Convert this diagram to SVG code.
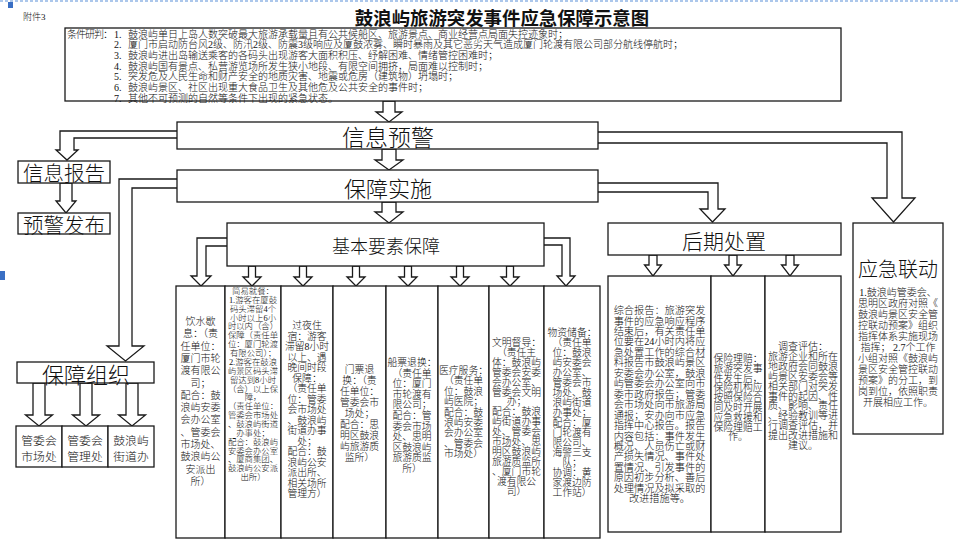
<svg xmlns="http://www.w3.org/2000/svg" width="959" height="552" viewBox="0 0 959 552">
<style>
.box{fill:#fff;stroke:#1a1a1a;stroke-width:1.3}
.arr{fill:#fff;stroke:#1a1a1a;stroke-width:1.3;stroke-linejoin:miter}
.b{font-family:"Liberation Serif","Noto Sans CJK SC",serif;font-weight:300;fill:#111;dominant-baseline:central}
.h{font-family:"Noto Sans CJK SC",sans-serif;font-weight:300;fill:#111;dominant-baseline:central;text-anchor:middle}
.m{text-anchor:middle}
</style>
<rect width="959" height="552" fill="#fff"/>
<line x1="0" y1="1" x2="959" y2="1" stroke="#5b8fd8" stroke-width="1.2" stroke-dasharray="3,2"/>
<rect x="8" y="2" width="5" height="6" fill="#3a6fc4"/>
<rect x="0" y="271" width="5" height="9" fill="#3a6fc4"/>
<text class="b" x="23" y="17" font-size="9">附件3</text>
<text class="h" x="502" y="16.5" font-size="18.4" style="font-weight:700">鼓浪屿旅游突发事件应急保障示意图</text>

<g id="connectors">
<path class="arr" d="M383,101 V112 H376 L389,122 L402,112 H395 V101 Z"/>
<path class="arr" d="M382,149 V160 H375 L389,170 L403,160 H396 V149 Z"/>
<path class="arr" d="M382,202 V212 H375 L389,223 L403,212 H396 V202 Z"/>
<path class="arr" d="M179,131 H60 V150 H56 L67,160 L78,150 H74 V138 H179 Z"/>
<path class="arr" d="M60,183 V201 H56 L66,213 L76,201 H72 V183 Z"/>
<path class="arr" d="M179,179 H119 V346 H107 L125.5,361 L144,346 H132 V188 H179 Z"/>
<path class="arr" d="M33,383 V415 H25.5 L39,426 L52.5,415 H45 V383 Z"/>
<path class="arr" d="M80,383 V415 H72.5 L86,426 L99.5,415 H92 V383 Z"/>
<path class="arr" d="M126,383 V415 H118.5 L132,426 L145.5,415 H138 V383 Z"/>
<path class="arr" d="M596,132 H902 V198 H915 L893.5,222 L872,198 H887 V143 H596 Z"/>
<path class="arr" d="M596,183 H718 V209 H725 L712.5,222 L700,209 H708 V192 H596 Z"/>
<path class="arr" d="M229,238 H197 V276 H191 L201,286 L211,276 H206 V246 H229 Z"/>
<path class="arr" d="M542,238 H570 V276 H575 L566,286 L557,276 H562 V245 H542 Z"/>
<path class="arr" d="M248.5,266 V277 H243 L252,286 L261,277 H255.5 V266 Z"/>
<path class="arr" d="M299.5,266 V277 H294 L303,286 L312,277 H306.5 V266 Z"/>
<path class="arr" d="M352.5,266 V277 H347 L356,286 L365,277 H359.5 V266 Z"/>
<path class="arr" d="M404.5,266 V277 H399 L408,286 L417,277 H411.5 V266 Z"/>
<path class="arr" d="M456.5,266 V277 H451 L460,286 L469,277 H463.5 V266 Z"/>
<path class="arr" d="M506.5,266 V277 H501 L510,286 L519,277 H513.5 V266 Z"/>
<path class="arr" d="M649,255 V265 H644.5 L653,276 L661.5,265 H657 V255 Z"/>
<path class="arr" d="M729,255 V265 H724.5 L733,276 L741.5,265 H737 V255 Z"/>
<path class="arr" d="M786,255 V265 H781.5 L790,276 L798.5,265 H794 V255 Z"/>
</g>

<g id="conditions">
<rect class="box" x="65" y="28" width="776" height="73"/>
<text class="b" font-size="10">
<tspan x="67" y="33.5" textLength="46">条件研判：</tspan>
<tspan x="114" y="33.5">1.</tspan><tspan x="128" y="33.5">鼓浪屿单日上岛人数突破最大旅游承载量且有公共候船区、旅游景点、商业经营点局面失控迹象时；</tspan>
<tspan x="114" y="44.2">2.</tspan><tspan x="128" y="44.2">厦门市启动防台风2级、防汛2级、防震3级响应及厦鼓浓雾、瞬时暴雨及其它恶劣天气造成厦门轮渡有限公司部分航线停航时；</tspan>
<tspan x="114" y="54.9">3.</tspan><tspan x="128" y="54.9">鼓浪屿进出岛输送乘客的各码头出现游客大面积积压、纾解困难、情绪管控困难时；</tspan>
<tspan x="114" y="65.6">4.</tspan><tspan x="128" y="65.6">鼓浪屿国有景点、私营游览场所发生狭小地段、有限空间拥挤，局面难以控制时；</tspan>
<tspan x="114" y="76.3">5.</tspan><tspan x="128" y="76.3">突发危及人民生命和财产安全的地质灾害、地震或危房（建筑物）坍塌时；</tspan>
<tspan x="114" y="87">6.</tspan><tspan x="128" y="87">鼓浪屿景区、社区出现重大食品卫生及其他危及公共安全的事件时；</tspan>
<tspan x="114" y="97.7">7.</tspan><tspan x="128" y="97.7">其他不可预测的自然等条件下出现的紧急状态。</tspan>
</text>
</g>

<g id="xinxi-yujing"><rect class="box" x="177" y="122" width="421" height="27"/><text class="h" x="388" y="136" font-size="23">信息预警</text></g>
<g id="baozhang-shishi"><rect class="box" x="177" y="170" width="421" height="32"/><text class="h" x="388" y="187" font-size="22">保障实施</text></g>
<g id="jiben-yaosu"><rect class="box" x="227" y="223" width="317" height="43"/><text class="h" x="386" y="245" font-size="18">基本要素保障</text></g>
<g id="xinxi-baogao"><rect class="box" x="18" y="161" width="92" height="22"/><text class="h" x="64" y="172" font-size="20.5">信息报告</text></g>
<g id="yujing-fabu"><rect class="box" x="18" y="213" width="92" height="21"/><text class="h" x="64" y="223.5" font-size="20.5">预警发布</text></g>
<g id="baozhang-zuzhi"><rect class="box" x="17" y="362" width="137" height="21"/><text class="h" x="86" y="372.5" font-size="22">保障组织</text></g>
<g id="org-1"><rect class="box" x="16" y="426" width="46" height="41"/><text class="h" x="39" y="439" font-size="11.8">管委会</text><text class="h" x="39" y="455" font-size="11.8">市场处</text></g>
<g id="org-2"><rect class="box" x="62" y="426" width="46" height="41"/><text class="h" x="85" y="439" font-size="11.8">管委会</text><text class="h" x="85" y="455" font-size="11.8">管理处</text></g>
<g id="org-3"><rect class="box" x="108" y="426" width="46" height="41"/><text class="h" x="131" y="439" font-size="11.8">鼓浪屿</text><text class="h" x="131" y="455" font-size="11.8">街道办</text></g>
<g id="houqi-chuzhi"><rect class="box" x="608" y="223" width="233" height="32"/><text class="h" x="724" y="240" font-size="21">后期处置</text></g>

<g id="yingji-liandong"><rect class="box" x="853" y="223" width="90" height="211"/><text class="h" x="898" y="268" font-size="20">应急联动</text>
<text class="b m" font-size="10">
<tspan x="898" y="292">1.鼓浪屿管委会、</tspan><tspan x="898" y="303">思明区政府对照《</tspan><tspan x="898" y="314">鼓浪屿景区安全管</tspan><tspan x="898" y="325">控联动预案》组织</tspan><tspan x="898" y="336">指挥体系实施现场</tspan><tspan x="898" y="347">指挥；  2.7个工作</tspan><tspan x="898" y="358">小组对照《鼓浪屿</tspan><tspan x="898" y="369">景区安全管控联动</tspan><tspan x="898" y="380">预案》的分工，到</tspan><tspan x="898" y="391">岗到位，依照职责</tspan><tspan x="898" y="402">开展相应工作。</tspan>
</text></g>

<g id="col-yinshui"><rect class="box" x="176" y="286" width="49" height="252"/>
<text class="b m" font-size="10"><tspan x="200.5" y="321">饮水歇</tspan><tspan x="200.5" y="333.3">息：（责</tspan><tspan x="200.5" y="345.6">任单位：</tspan><tspan x="200.5" y="357.9">厦门市轮</tspan><tspan x="200.5" y="370.2">渡有限公</tspan><tspan x="200.5" y="382.5">司；</tspan><tspan x="200.5" y="394.8">配合：鼓</tspan><tspan x="200.5" y="407.1">浪屿安委</tspan><tspan x="200.5" y="419.4">会办公室</tspan><tspan x="200.5" y="431.7">、管委会</tspan><tspan x="200.5" y="444">市场处、</tspan><tspan x="200.5" y="456.3">鼓浪屿公</tspan><tspan x="200.5" y="468.6">安派出</tspan><tspan x="200.5" y="480.9">所）</tspan></text></g>

<g id="col-jiucan"><rect class="box" x="225" y="286" width="56" height="252"/>
<text class="b m" font-size="8.4"><tspan x="253" y="291">简易就餐：</tspan><tspan x="253" y="299.9">1.游客在厦鼓</tspan><tspan x="253" y="308.7">码头滞留4个</tspan><tspan x="253" y="317.6">小时以上6小</tspan><tspan x="253" y="326.4">时以内（含）</tspan><tspan x="253" y="335.3">保障（责任单</tspan><tspan x="253" y="344.2">位：厦门轮渡</tspan><tspan x="253" y="353">有限公司）；</tspan><tspan x="253" y="361.9">2.游客在鼓浪</tspan><tspan x="253" y="370.7">屿景区码头滞</tspan><tspan x="253" y="379.6">留达到8小时</tspan><tspan x="253" y="388.5">（含）以上保</tspan><tspan x="253" y="397.3">障，</tspan><tspan x="253" y="406.2">（责任单位：</tspan><tspan x="253" y="415">管委会市场处</tspan><tspan x="253" y="423.9">、鼓浪屿街道</tspan><tspan x="253" y="432.8">办事处；</tspan><tspan x="253" y="441.6">配合：鼓浪屿</tspan><tspan x="253" y="450.5">安委会办公室</tspan><tspan x="253" y="459.3">、厦商集团、</tspan><tspan x="253" y="468.2">鼓浪屿公安派</tspan><tspan x="253" y="477">出所）</tspan></text></g>

<g id="col-zhusu"><rect class="box" x="281" y="286" width="52" height="252"/>
<text class="b m" font-size="9.8"><tspan x="307" y="325">过夜住</tspan><tspan x="307" y="335.5">宿：游客</tspan><tspan x="307" y="346">滞留8小时</tspan><tspan x="307" y="356.5">以上、遇</tspan><tspan x="307" y="367">晚间时段</tspan><tspan x="307" y="377.5">保障：</tspan><tspan x="307" y="388">（责任单</tspan><tspan x="307" y="398.5">位：管委</tspan><tspan x="307" y="409">会市场处</tspan><tspan x="307" y="419.5">、鼓浪屿</tspan><tspan x="307" y="430">街道办事</tspan><tspan x="307" y="440.5">处；</tspan><tspan x="307" y="451">配合：鼓</tspan><tspan x="307" y="461.5">浪屿公安</tspan><tspan x="307" y="472">派出所、</tspan><tspan x="307" y="482.5">相关场所</tspan><tspan x="307" y="493">管理方）</tspan></text></g>

<g id="col-menpiao"><rect class="box" x="333" y="286" width="53" height="252"/>
<text class="b m" font-size="9.8"><tspan x="359.5" y="369">门票退</tspan><tspan x="359.5" y="380">换：（责</tspan><tspan x="359.5" y="391">任单位：</tspan><tspan x="359.5" y="402">管委会市</tspan><tspan x="359.5" y="413">场处；</tspan><tspan x="359.5" y="424">配合：思</tspan><tspan x="359.5" y="435">明区鼓浪</tspan><tspan x="359.5" y="446">屿旅游质</tspan><tspan x="359.5" y="457">监所）</tspan></text></g>

<g id="col-chuanpiao"><rect class="box" x="386" y="286" width="52" height="252"/>
<text class="b m" font-size="9.8"><tspan x="412" y="362">船票退换：</tspan><tspan x="412" y="372.6">（责任单</tspan><tspan x="412" y="383.2">位：厦门</tspan><tspan x="412" y="393.8">市轮渡有</tspan><tspan x="412" y="404.4">限公司；</tspan><tspan x="412" y="415">配合：管</tspan><tspan x="412" y="425.6">委会市场</tspan><tspan x="412" y="436.2">处、思明</tspan><tspan x="412" y="446.8">区鼓浪屿</tspan><tspan x="412" y="457.4">旅游质监</tspan><tspan x="412" y="468">所）</tspan></text></g>

<g id="col-yiliao"><rect class="box" x="438" y="286" width="51" height="252"/>
<text class="b m" font-size="9.8"><tspan x="463.5" y="370">医疗服务：</tspan><tspan x="463.5" y="380.4">（责任单</tspan><tspan x="463.5" y="390.8">位：鼓浪</tspan><tspan x="463.5" y="401.2">屿医院；</tspan><tspan x="463.5" y="411.6">配合：鼓</tspan><tspan x="463.5" y="422">浪屿安委</tspan><tspan x="463.5" y="432.4">会办公室</tspan><tspan x="463.5" y="442.8">、管委会</tspan><tspan x="463.5" y="453.2">市场处）</tspan></text></g>

<g id="col-duda"><rect class="box" x="489" y="286" width="55" height="252"/>
<text class="b m" font-size="9.8"><tspan x="516.5" y="342">文明督导：</tspan><tspan x="516.5" y="351.9">（责任主</tspan><tspan x="516.5" y="361.8">体：鼓浪屿</tspan><tspan x="516.5" y="371.7">管委会安委</tspan><tspan x="516.5" y="381.6">会办公室、</tspan><tspan x="516.5" y="391.5">管委会文明</tspan><tspan x="516.5" y="401.4">办；</tspan><tspan x="516.5" y="411.3">配合：鼓浪</tspan><tspan x="516.5" y="421.2">屿街道办事</tspan><tspan x="516.5" y="431.1">处、管委会</tspan><tspan x="516.5" y="441">市场处、思</tspan><tspan x="516.5" y="450.9">明区鼓浪屿</tspan><tspan x="516.5" y="460.8">旅游质监所</tspan><tspan x="516.5" y="470.7">、厦门市轮</tspan><tspan x="516.5" y="480.6">渡有限公</tspan><tspan x="516.5" y="490.5">司）</tspan></text></g>

<g id="col-wuzi"><rect class="box" x="544" y="286" width="56" height="252"/>
<text class="b m" font-size="9.8"><tspan x="572" y="332">物资储备：</tspan><tspan x="572" y="342">（责任单</tspan><tspan x="572" y="352">位：鼓浪</tspan><tspan x="572" y="362">屿安委会</tspan><tspan x="572" y="372">办公室、</tspan><tspan x="572" y="382">管委会市</tspan><tspan x="572" y="392">场处、鼓</tspan><tspan x="572" y="402">浪屿街道</tspan><tspan x="572" y="412">办事处；</tspan><tspan x="572" y="422">配合：厦</tspan><tspan x="572" y="432">门轮渡有</tspan><tspan x="572" y="442">限公司、</tspan><tspan x="572" y="452">海警三支</tspan><tspan x="572" y="462">队；</tspan><tspan x="572" y="472">协调：黄</tspan><tspan x="572" y="482">家渡边防</tspan><tspan x="572" y="492">工作站）</tspan></text></g>

<g id="hq-baogao"><rect class="box" x="608" y="276" width="103" height="256"/>
<text class="b m" font-size="10.2"><tspan x="659.5" y="310">综合报告：旅游突发</tspan><tspan x="659.5" y="320.5">事件的应急响应程序</tspan><tspan x="659.5" y="330.9">结束后，有关责任单</tspan><tspan x="659.5" y="341.4">位要在24小时内将应</tspan><tspan x="659.5" y="351.8">急处置工作的综合材</tspan><tspan x="659.5" y="362.3">料报告市鼓浪屿景区</tspan><tspan x="659.5" y="372.8">安委会办公室，鼓浪</tspan><tspan x="659.5" y="383.2">屿管委会办公室向市</tspan><tspan x="659.5" y="393.7">委市政府报告；管委</tspan><tspan x="659.5" y="404.1">会市场处向市旅游局</tspan><tspan x="659.5" y="414.6">通报；安办向市应急</tspan><tspan x="659.5" y="425.1">指挥中心报告。报告</tspan><tspan x="659.5" y="435.5">内容包括：事件发生</tspan><tspan x="659.5" y="446">概况、人员伤亡或财</tspan><tspan x="659.5" y="456.4">产损失情况、事件处</tspan><tspan x="659.5" y="466.9">置情况、引发事件的</tspan><tspan x="659.5" y="477.4">原因初步分析、善后</tspan><tspan x="659.5" y="487.8">处理情况及拟采取的</tspan><tspan x="659.5" y="498.3">改进措施等。</tspan></text></g>

<g id="hq-baoxian"><rect class="box" x="711" y="276" width="54" height="256"/>
<text class="b m" font-size="9.8"><tspan x="738" y="358">保险理赔：</tspan><tspan x="738" y="367.8">旅游突发事</tspan><tspan x="738" y="377.6">件发生后，</tspan><tspan x="738" y="387.4">保险机构应</tspan><tspan x="738" y="397.2">按照保险合</tspan><tspan x="738" y="407">同及时开展</tspan><tspan x="738" y="416.8">应急救援和</tspan><tspan x="738" y="426.6">保险理赔工</tspan><tspan x="738" y="436.4">作。</tspan></text></g>

<g id="hq-diaocha"><rect class="box" x="765" y="276" width="76" height="256"/>
<text class="b m" font-size="10"><tspan x="803" y="346">调查评估：</tspan><tspan x="803" y="355.9">旅游企业和所在</tspan><tspan x="803" y="365.8">地政府会同鼓浪</tspan><tspan x="803" y="375.7">屿景区安委会等</tspan><tspan x="803" y="385.6">相关部门对突发</tspan><tspan x="803" y="395.5">事件的起因、性</tspan><tspan x="803" y="405.4">质、影响、责任</tspan><tspan x="803" y="415.3">、经验教训等进</tspan><tspan x="803" y="425.2">行调查评估，并</tspan><tspan x="803" y="435.1">提出改进措施和</tspan><tspan x="803" y="445">建议。</tspan></text></g>
</svg>
